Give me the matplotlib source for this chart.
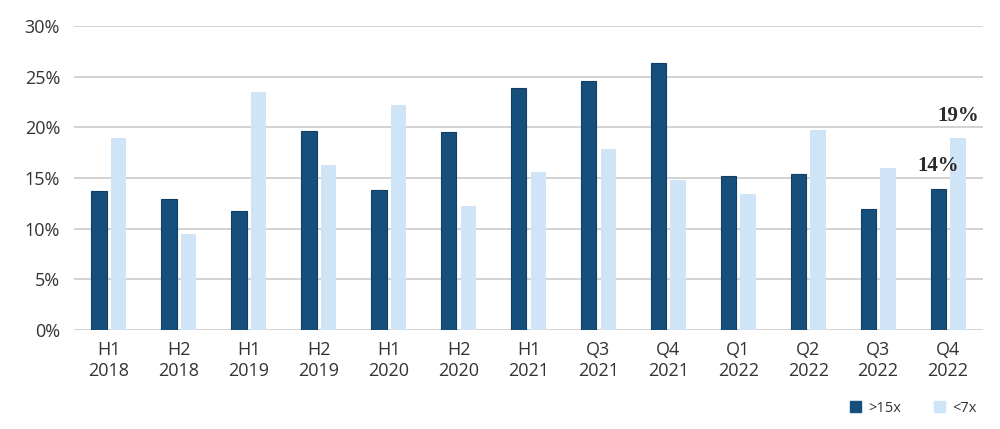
import numpy as np
import matplotlib.pyplot as plt
from matplotlib.patches import Patch

# Values (percent)
periods = ['H1\n2018', 'H2\n2018', 'H1\n2019', 'H2\n2019', 'H1\n2020', 'H2\n2020', 'H1\n2021',
           'Q3\n2021', 'Q4\n2021', 'Q1\n2022', 'Q2\n2022', 'Q3\n2022', 'Q4\n2022']
above_15x = [13.7, 12.9, 11.7, 19.6, 13.8, 19.5, 23.9, 24.6, 26.3, 15.2, 15.4, 11.9, 13.9]
below_7x = [18.9, 9.5, 23.5, 16.3, 22.2, 12.2, 15.6, 17.9, 14.8, 13.4, 19.7, 16.0, 18.9]
y_ticks = [0, 5, 10, 15, 20, 25, 30]

dark = '#174f7c'
light = '#cfe4f7'
text_col = '#333333'

plt.rcParams['font.family'] = ['Open Sans', 'DejaVu Sans']

fig = plt.figure(figsize=(10, 4.29), dpi=100)
ax = fig.add_axes([0.074, 0.2308, 0.909, 0.7086])

x = np.arange(len(periods))
w = 0.22
off = 0.14
ax.bar(x - off, above_15x, w, color=dark, edgecolor='#123e63', linewidth=0.8, zorder=3)
ax.bar(x + off, below_7x, w, color=light, edgecolor='none', zorder=3)

ax.set_xlim(-0.5, len(periods) - 0.5)
ax.set_ylim(0, 30)
ax.set_yticks(y_ticks)
ax.set_yticklabels([f'{v}%' for v in y_ticks])
ax.set_xticks(x)
ax.set_xticklabels(periods, linespacing=1.2)
ax.yaxis.grid(True, color='#cfcfcf', linewidth=1.3, zorder=0)
ax.set_axisbelow(True)
for s in ax.spines.values():
    s.set_visible(False)
ax.tick_params(axis='both', length=0, labelsize=13, colors=text_col)
ax.tick_params(axis='y', pad=10)
ax.tick_params(axis='x', pad=8)

# labels over the last period
last = len(periods) - 1
ax.text(last - off, above_15x[-1] + 1.3, f'{above_15x[-1]:.0f}%', ha='center', va='bottom',
        fontsize=15, fontweight='bold', family='Liberation Serif', color='#2b2b2b')
ax.text(last + off, below_7x[-1] + 1.2, f'{below_7x[-1]:.0f}%', ha='center', va='bottom',
        fontsize=15, fontweight='bold', family='Liberation Serif', color='#2b2b2b')

handles = [Patch(color=dark, label='>15x'), Patch(color=light, label='<7x')]
fig.legend(handles=handles, loc='center right', bbox_to_anchor=(0.99, 0.048), ncol=2,
           frameon=False, fontsize=10.5, handlelength=0.8, handleheight=0.8,
           handletextpad=0.5, columnspacing=2.2, labelcolor=text_col)

fig.savefig('out.png', dpi=100)
